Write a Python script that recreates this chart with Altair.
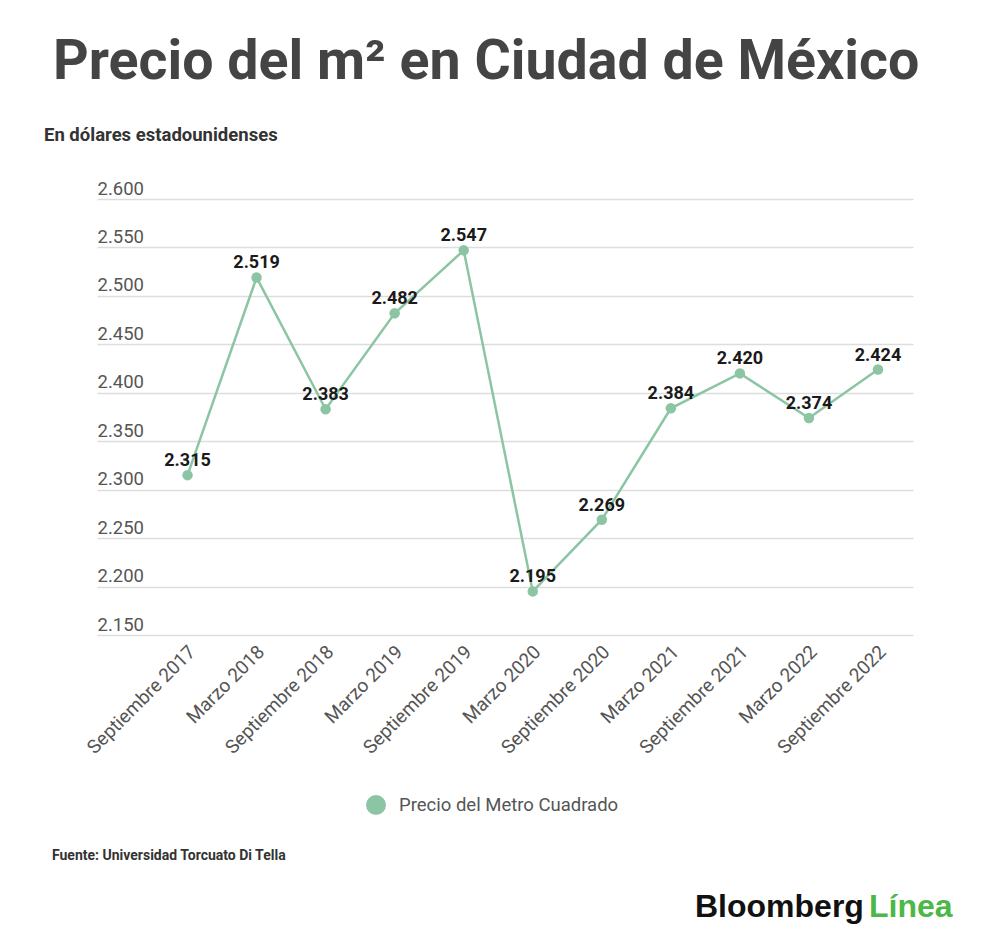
import altair as alt
import pandas as pd

periodos = ["Septiembre 2017", "Marzo 2018", "Septiembre 2018", "Marzo 2019",
            "Septiembre 2019", "Marzo 2020", "Septiembre 2020", "Marzo 2021",
            "Septiembre 2021", "Marzo 2022", "Septiembre 2022"]
precios = [2315, 2519, 2383, 2482, 2547, 2195, 2269, 2384, 2420, 2374, 2424]
y_ticks = [2150, 2200, 2250, 2300, 2350, 2400, 2450, 2500, 2550, 2600]
serie = "Precio del Metro Cuadrado"

GREEN = "#8cc5a3"
FONT = "Roboto"
W, H = 816, 436

df = pd.DataFrame({"i": list(range(len(periodos))), "periodo": periodos,
                   "precio": precios, "serie": [serie] * len(periodos)})

label_arr = "[" + ",".join("'" + p + "'" for p in periodos) + "]"

x = alt.X("i:Q",
          scale=alt.Scale(domain=[-1.311, 10.507], nice=False, zero=False),
          axis=alt.Axis(values=list(range(len(periodos))), labelExpr=label_arr + "[datum.value]",
                        labelAngle=-45, labelAlign="right", labelBaseline="top",
                        labelPadding=7, labelOffset=-2, labelFontSize=19, labelColor="#555555",
                        labelFont=FONT, domain=False, ticks=False, grid=False, title=None,
                        labelOverlap=False, labelLimit=300))
y = alt.Y("precio:Q",
          scale=alt.Scale(domain=[2150, 2600], nice=False, zero=False),
          axis=alt.Axis(values=y_ticks,
                        labelExpr="replace(format(datum.value, ',.0f'), ',', '.')",
                        labelAlign="left", labelBaseline="alphabetic", labelOffset=-5,
                        labelPadding=0, tickSize=0, ticks=False, domain=False,
                        labelFontSize=18.5, labelColor="#555555", labelFont=FONT,
                        grid=True, gridColor="#dddddd", gridWidth=1.5, title=None))

base = alt.Chart(df)

line = base.mark_line(color=GREEN, strokeWidth=2.5).encode(x=x, y=y)
points = base.mark_point(filled=True, size=110, opacity=1, shape="circle").encode(
    x=x, y=y,
    color=alt.Color("serie:N", scale=alt.Scale(range=[GREEN]),
                    legend=alt.Legend(title=None, orient="none", legendX=269, legendY=596,
                                      symbolSize=400, symbolType="circle", symbolOpacity=1,
                                      symbolStrokeWidth=0, labelLimit=400,
                                      labelFontSize=18.5, labelFont=FONT, labelColor="#555555",
                                      labelOffset=13, padding=0)))
labels = base.mark_text(font=FONT, fontSize=18, fontWeight="bold", color="#1a1a1a",
                        dy=-9, baseline="alphabetic").transform_calculate(
    txt="replace(format(datum.precio, ',.0f'), ',', '.')").encode(x=x, y=y, text="txt:N")

titulo = ["Precio del m² en Ciudad de México"]
subtitulo = ["En dólares estadounidenses"]
fuente = ["Fuente: Universidad Torcuato Di Tella"]
marca = ["Bloomberg"]
marca2 = ["Línea"]

def txt(s, xv, yv, size, weight, color, font=FONT):
    return alt.Chart(pd.DataFrame({"t": s})).mark_text(
        font=font, fontSize=size, fontWeight=weight, color=color, align="left",
        baseline="alphabetic").encode(x=alt.value(xv), y=alt.value(yv), text="t:N")

t1 = txt(titulo, -44, -120, 55.5, "bold", "#444444")
t2 = txt(subtitulo, -53, -58, 18.5, "bold", "#333333")
t3 = txt(fuente, -45, 661, 14, "bold", "#333333")
t4 = txt(marca, 598, 718, 32, "bold", "#111111", "Liberation Sans")
t5 = txt(marca2, 772, 718, 32, "bold", "#4cb848", "Liberation Sans")

chart = alt.layer(line, points, labels, t1, t2, t3, t4, t5).properties(
    width=W, height=H,
    background="white",
    autosize=alt.AutoSizeParams(type="none"),
    padding={"left": 89, "top": 191, "right": 70, "bottom": 300},
).configure_view(strokeWidth=0, stroke="transparent")

chart.save("out.html", embed_options={"renderer": "svg", "actions": False})
